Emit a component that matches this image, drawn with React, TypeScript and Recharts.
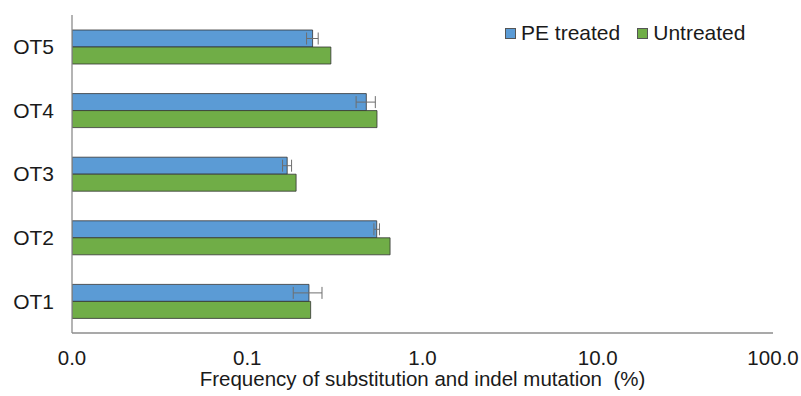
import React from "react";
import {
  BarChart,
  Bar,
  XAxis,
  YAxis,
  Legend,
  ErrorBar,
} from "recharts";

// sites, top to bottom
const sites = ["OT5", "OT4", "OT3", "OT2", "OT1"];
const peTreated = [0.236, 0.478, 0.169, 0.548, 0.225];
const peTreatedErr = [0.018, 0.06, 0.01, 0.02, 0.042];
const untreated = [0.3, 0.55, 0.19, 0.653, 0.23];
const xTicks = [0.01, 0.1, 1, 10, 100];

const BLUE = "#5B9BD5";
const GREEN = "#70AD47";
const FONT = '"Liberation Sans", Arial, sans-serif';

const data = sites.map((name, i) => ({
  name,
  pe: peTreated[i],
  peErr: peTreatedErr[i],
  untreated: untreated[i],
}));

const renderLegend = (props: any) => {
  const items = props.payload || [];
  return (
    <div style={{ display: "flex", alignItems: "center", fontSize: 21, color: "#1a1a1a" }}>
      {items.map((it: any) => (
        <div
          key={it.value}
          style={{ display: "flex", alignItems: "center", marginRight: 17 }}
        >
          <span
            style={{
              width: 11,
              height: 11,
              background: it.color,
              border: "1px solid #555",
              boxSizing: "border-box",
              marginRight: 5,
              display: "inline-block",
            }}
          />
          <span>{it.value}</span>
        </div>
      ))}
    </div>
  );
};

export default function App() {
  return (
    <div
      style={{
        position: "absolute",
        left: 0,
        top: 0,
        width: 801,
        height: 396,
        background: "#fff",
        fontFamily: FONT,
      }}
    >
      <BarChart
        width={801}
        height={396}
        data={data}
        layout="vertical"
        margin={{ top: 15, right: 28, bottom: 0, left: 0 }}
        barGap={0}
        barSize={17}
      >
        <XAxis
          type="number"
          scale="log"
          domain={[0.01, 100]}
          ticks={xTicks}
          interval={0}
          allowDataOverflow
          tickFormatter={(v: number) => v.toFixed(1)}
          tickLine={false}
          tickMargin={11}
          height={63}
          axisLine={{ stroke: "#8c8c8c", strokeWidth: 1.3 }}
          tick={{ fontSize: 20.5, fill: "#1a1a1a", fontFamily: FONT }}
          label={{
            value: "Frequency of substitution and indel mutation\u00A0 (%)",
            position: "insideBottom",
            offset: 10,
            style: { fontSize: 20.5, fill: "#1a1a1a", fontFamily: FONT },
          }}
        />
        <YAxis
          type="category"
          dataKey="name"
          width={72}
          tickLine={false}
          tickMargin={12}
          axisLine={{ stroke: "#8c8c8c", strokeWidth: 1.3 }}
          tick={{ fontSize: 21, fill: "#1a1a1a", fontFamily: FONT }}
        />
        <Legend
          layout="horizontal"
          verticalAlign="middle"
          align="center"
          width={300}
          content={renderLegend}
          wrapperStyle={{ top: 21, left: 505 }}
        />
        <Bar
          dataKey="pe"
          name="PE treated"
          fill={BLUE}
          stroke="#333"
          strokeWidth={0.8}
          isAnimationActive={false}
        >
          <ErrorBar
            dataKey="peErr"
            direction="x"
            width={6}
            stroke="#6e6e6e"
            strokeWidth={1}
          />
        </Bar>
        <Bar
          dataKey="untreated"
          name="Untreated"
          fill={GREEN}
          stroke="#333"
          strokeWidth={0.8}
          isAnimationActive={false}
        />
      </BarChart>
    </div>
  );
}
